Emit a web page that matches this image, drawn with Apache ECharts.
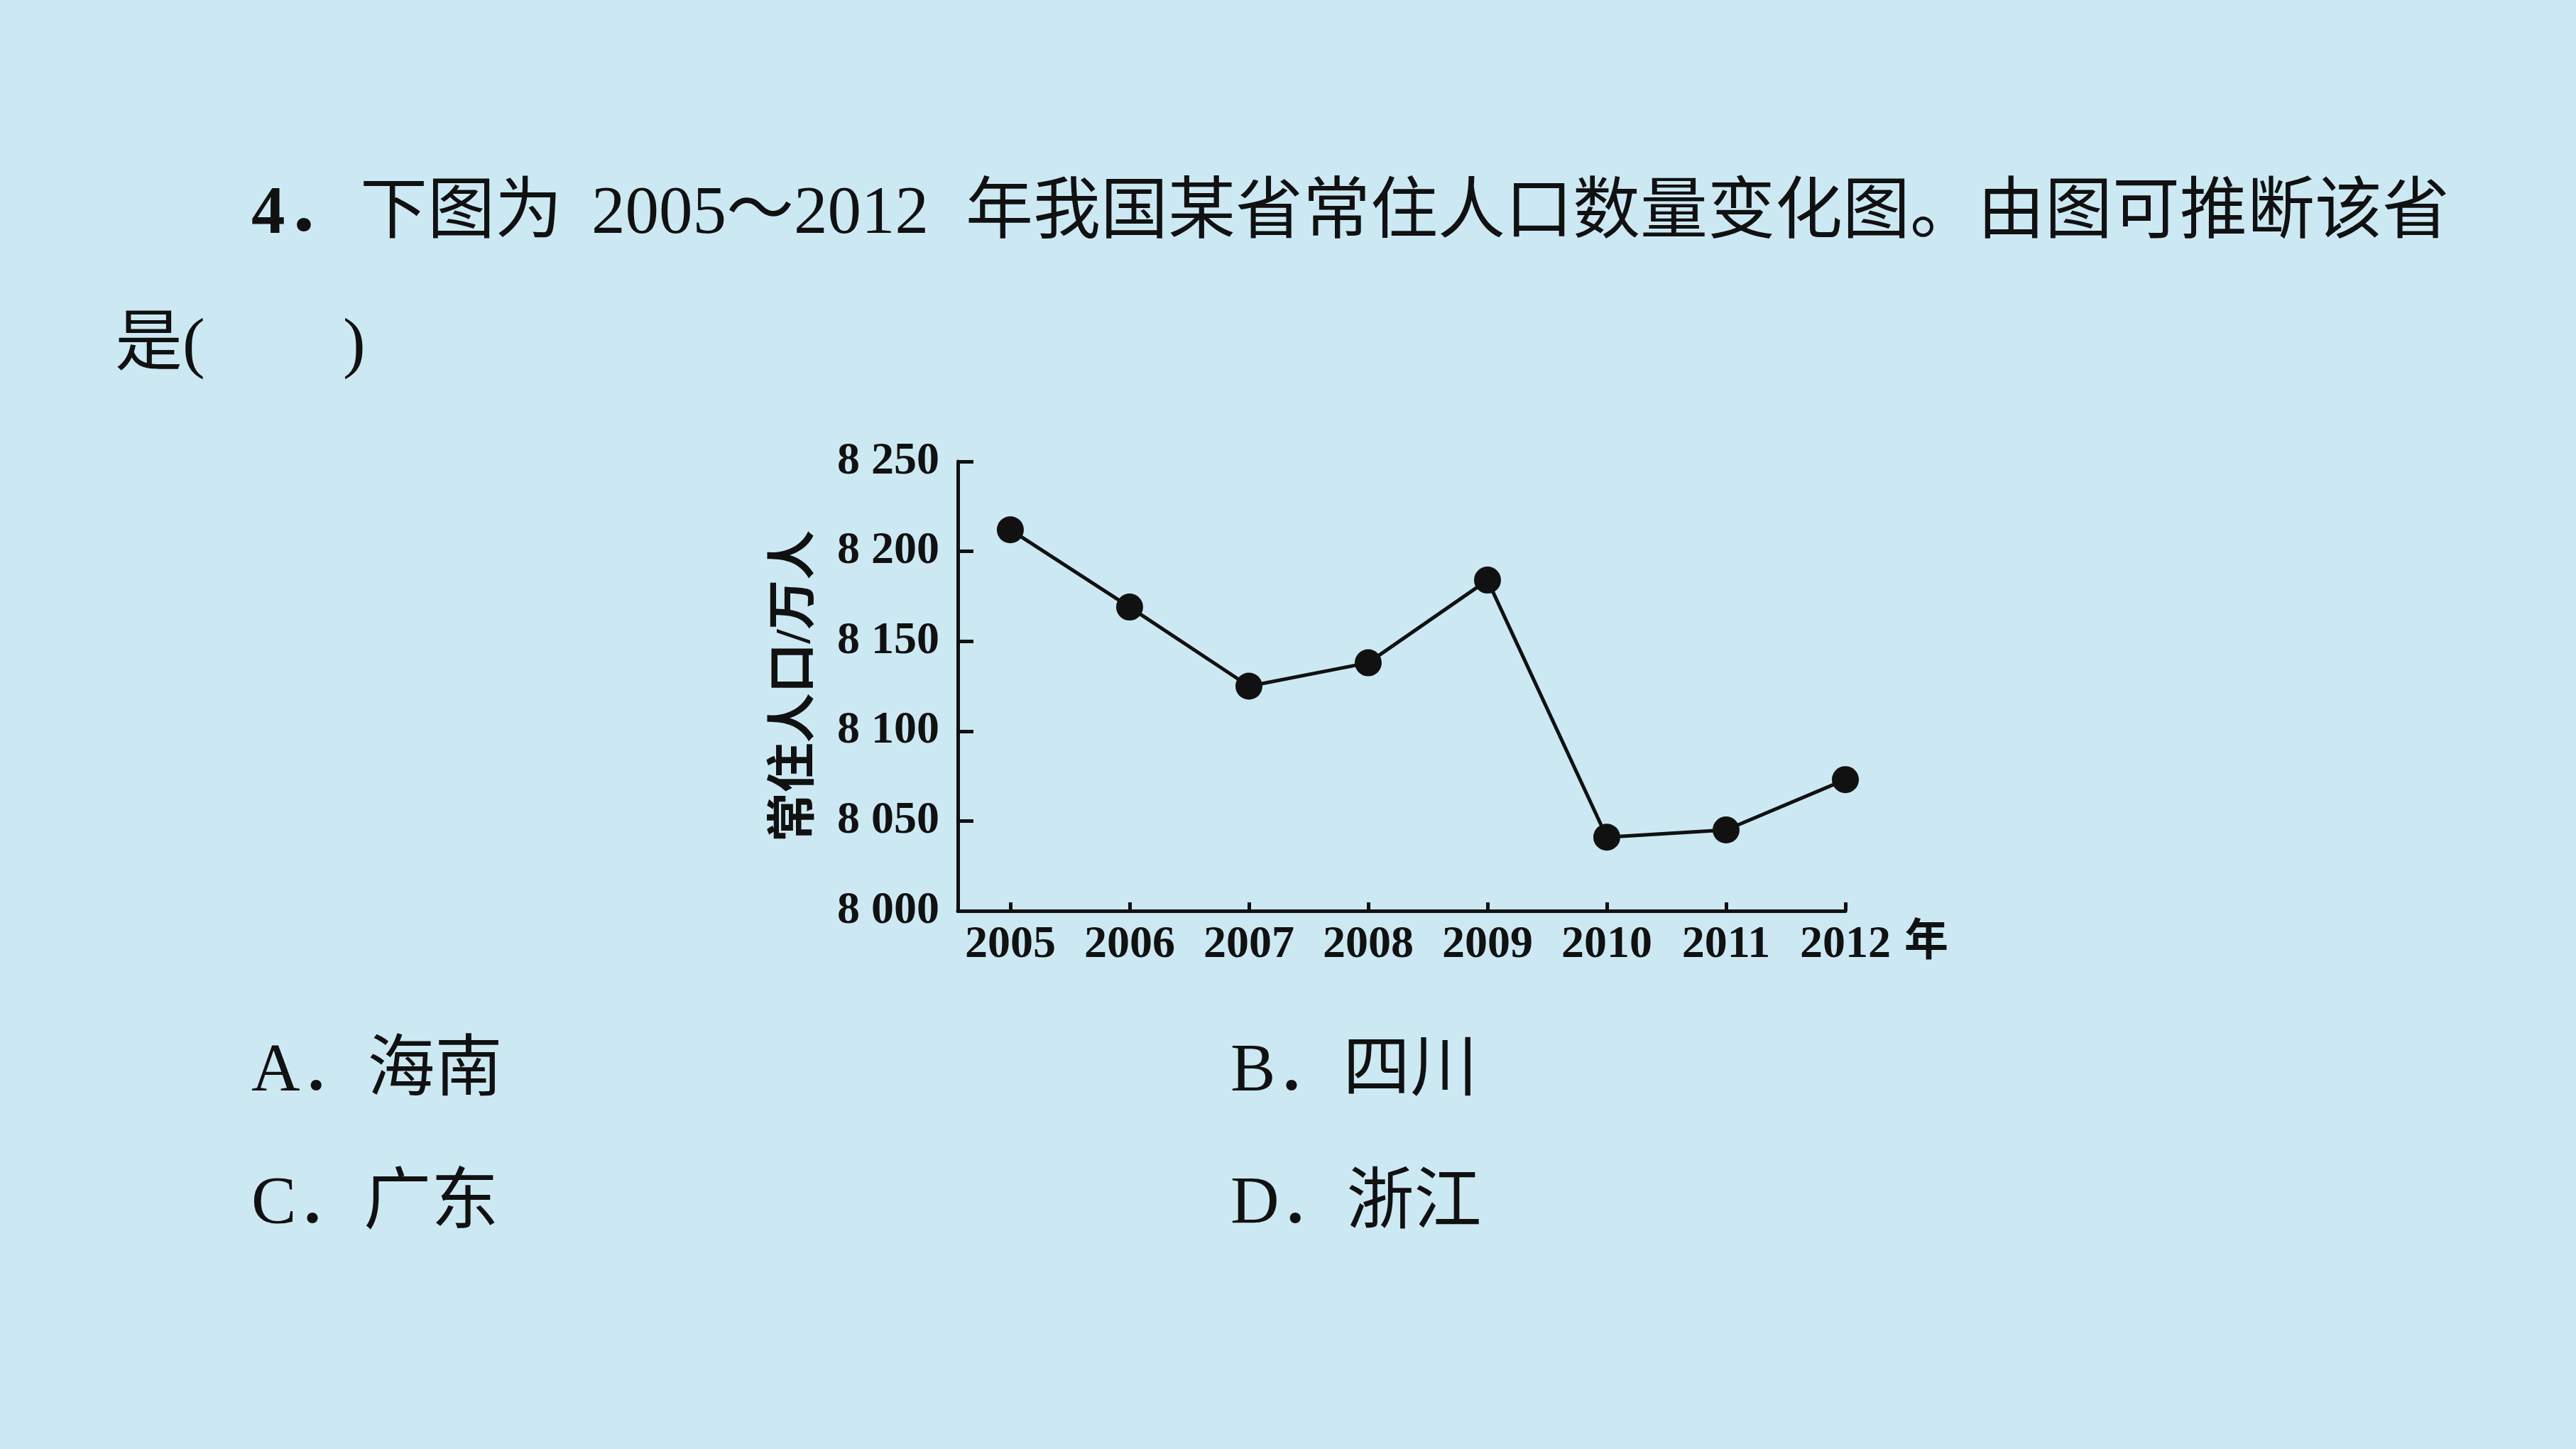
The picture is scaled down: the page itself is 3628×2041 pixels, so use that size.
<!DOCTYPE html>
<html>
<head>
<meta charset="utf-8">
<script src="https://cdn.jsdelivr.net/npm/echarts@6/dist/echarts.min.js"></script>
<style>
  html, body { margin: 0; padding: 0; background: #cce9f3; }
  #main { width: 3628px; height: 2041px; }
</style>
</head>
<body>
<div id="main"></div>
<script>
// 年份 / 常住人口（万人）
const years = [2005, 2006, 2007, 2008, 2009, 2010, 2011, 2012];
const population = [8212, 8169, 8125, 8138, 8184, 8041, 8045, 8073];
const yTicks = [8000, 8050, 8100, 8150, 8200, 8250];

const serif = "'Liberation Serif', 'Noto Sans CJK SC', serif";

const myChart = echarts.init(document.getElementById('main'));

// 题干和选项
const textItem = (x, y, text, bold, size) => ({
  type: 'text',
  x: x,
  y: y,
  style: {
    text: text,
    fill: '#111',
    font: (bold ? 'bold ' : '') + (size || 95) + 'px ' + serif,
    verticalAlign: 'middle'
  }
});

const option = {
  backgroundColor: '#cce9f3',
  animation: false,
  grid: {
    left: 1349,
    top: 650,
    right: 1029,
    bottom: 758,
    outerBoundsMode: 'none'
  },
  xAxis: {
    type: 'value',
    min: 2004.56,
    max: 2012,
    axisLine: { lineStyle: { color: '#111', width: 5 } },
    axisTick: {
      inside: true,
      length: 12,
      customValues: years,
      lineStyle: { color: '#111', width: 5 }
    },
    axisLabel: {
      customValues: years,
      margin: 16,
      color: '#111',
      fontSize: 64,
      fontWeight: 'bold',
      fontFamily: serif,
      formatter: v => String(v)
    },
    splitLine: { show: false }
  },
  yAxis: {
    type: 'value',
    min: yTicks[0],
    max: yTicks[yTicks.length - 1],
    name: '常住人口/万人',
    nameLocation: 'middle',
    nameGap: 192,
    nameTextStyle: {
      color: '#111',
      fontSize: 70,
      fontWeight: 'bold',
      fontFamily: serif
    },
    axisLine: { show: true, lineStyle: { color: '#111', width: 5 } },
    axisTick: {
      show: true,
      inside: true,
      length: 22,
      customValues: yTicks,
      lineStyle: { color: '#111', width: 5 }
    },
    axisLabel: {
      customValues: yTicks,
      margin: 26,
      color: '#111',
      fontSize: 64,
      fontWeight: 'bold',
      fontFamily: serif,
      formatter: v => String(v).replace(/^(\d)(\d{3})$/, '$1 $2')
    },
    splitLine: { show: false }
  },
  series: [{
    type: 'line',
    data: years.map((y, i) => [y, population[i]]),
    symbol: 'circle',
    symbolSize: 38,
    lineStyle: { color: '#111', width: 5 },
    itemStyle: { color: '#111' }
  }],
  graphic: [
    textItem(2682, 1330, '年', true, 62),
    textItem(354, 303, '4．', true),
    textItem(507, 303, '下图为'),
    textItem(833, 303, '2005～2012'),
    textItem(1360, 303, '年我国某省常住人口数量变化图。由图可推断该省'),
    textItem(162, 489, '是('),
    textItem(483, 489, ')'),
    textItem(354, 1511, 'A．海南'),
    textItem(1733, 1511, 'B．四川'),
    textItem(354, 1698, 'C．广东'),
    textItem(1733, 1698, 'D．浙江')
  ]
};

myChart.setOption(option);
</script>
</body>
</html>
